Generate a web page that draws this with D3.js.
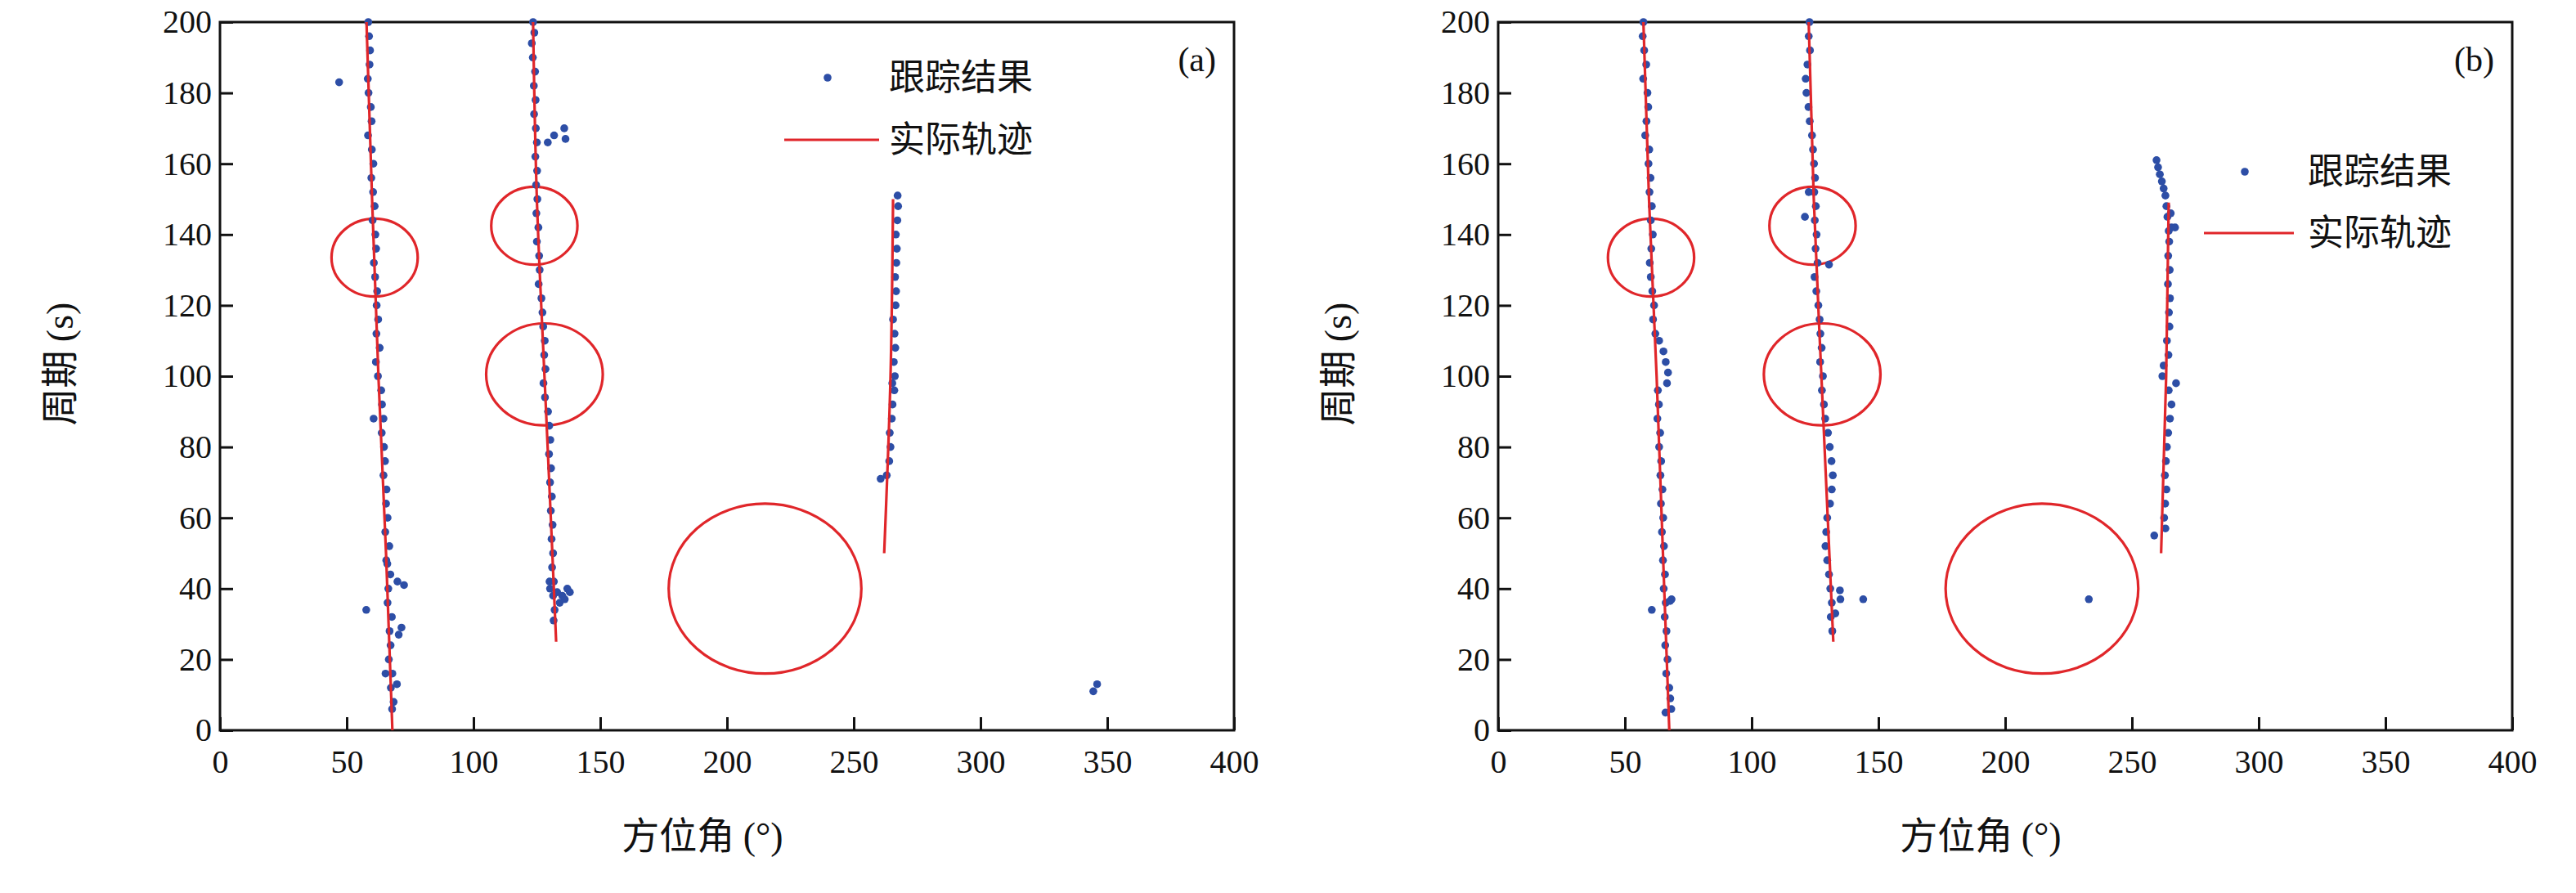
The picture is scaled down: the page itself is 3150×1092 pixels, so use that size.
<!DOCTYPE html>
<html><head><meta charset="utf-8">
<script src="https://cdn.jsdelivr.net/npm/d3@7"></script>
<style>body{margin:0;background:#fff}</style>
</head><body>
<svg id="chart" width="3150" height="1092"></svg>
<script>
// axis ticks
const xTicks = [0, 50, 100, 150, 200, 250, 300, 350, 400];
const yTicks = [0, 20, 40, 60, 80, 100, 120, 140, 160, 180, 200];

// panel (a): tracking result dots [azimuth, period]
const dotsA = [
  [58.5,200],[58.8,196],[59.2,192],[59.0,188],[58.3,184],[58.6,180],[59.5,176],[59.8,172],[58.4,168],[59.9,164],[60.5,160],[59.7,156],[60.4,152],[61.0,148],[60.2,144],[61.3,140],[61.6,136],[60.7,132],[61.2,128],[62.0,124],[61.8,120],[62.4,116],[61.7,112],[63.0,108],[61.5,104],[62.3,100],[63.6,96],[63.9,92],[64.5,88],[63.8,84],[64.7,80],[65.1,76],[64.5,72],[65.7,68],[65.5,64],[66.1,60],[65.2,56],[66.8,52],[65.6,48],[67.2,44],[66.4,40],[66.1,36],[67.8,32],[66.9,28],[67.3,24],[66.6,20],[68.0,16],[67.4,12],[68.5,8],[67.9,6],
  [47,183],[57.7,34],[60.6,88],[72.6,41],[71.6,29],[69.8,13],[65.3,16],[70,42],[70.5,27],[66.0,47],
  [123.5,200],[124,197],[123.0,194],[123.4,190],[124.3,186],[123.8,182],[124.5,178],[123.9,174],[124.6,170],[125.0,166],[124.4,162],[125.1,158],[124.7,154],[125.2,150],[124.8,146],[125.6,142],[125.0,138],[125.9,134],[126.1,130],[125.7,126],[126.8,122],[127.2,118],[127.5,114],[128.1,110],[127.9,106],[128.4,102],[127.6,98],[128.2,94],[129.4,90],[129.9,86],[130.3,82],[129.8,78],[130.6,74],[130.2,70],[130.9,66],[130.5,62],[131.2,58],[130.8,54],[131.4,50],[131.0,46],[131.7,42],[131.4,38],[132.0,34],[131.6,31],
  [135.8,170],[136.3,167],[131.8,168],[129.3,166],[130,42],[130.2,40],[133,39],[135,38],[137,40],[138,39],[136,37],[134,36],
  [263,72],[264,76],[264.5,80],[264.2,84],[265,88],[265.3,92],[266,96],[266.2,100],[265.8,104],[266.4,108],[266.1,112],[265.5,116],[266.5,120],[266.7,124],[266.3,128],[266.8,132],[267.0,136],[266.6,140],[267.2,144],[267.5,148],[267.3,151],
  [260.6,71],[265.2,98],[344.5,11],[346,13]
];
// panel (a): actual tracks
const tracksA = [
  [[57.8,200],[60,150],[62.5,100],[65.5,50],[68,0]],
  [[123.5,200],[125,150],[128,100],[130.5,60],[132.6,25]],
  [[265.5,150],[264.5,100],[262,50]]
];
// panel (b)
const dotsB = [
  [57.3,200],[57.0,196],[57.6,192],[58.4,188],[57.2,184],[58.9,180],[59.2,176],[58.5,172],[58.0,168],[59.6,164],[59.3,160],[60.1,156],[59.7,152],[60.6,148],[60.2,144],[61.0,140],[60.4,136],[59.8,132],[60.2,128],[60.8,124],[61.5,120],[61.1,116],[62.0,112],[63.5,110],[65.2,107],[66.1,104],[67.0,101],[66.6,98],[63.0,96],[63.4,92],[62.8,88],[63.9,84],[63.5,80],[64.3,76],[64.0,72],[64.8,68],[64.2,64],[65.1,60],[64.6,56],[65.4,52],[65.0,48],[65.8,44],[65.3,40],[66.1,36],[65.7,32],[66.4,28],[65.9,24],[66.8,20],[66.3,16],[67.5,12],[67.9,9],[68.3,6],[66.0,5],
  [60.6,34],[68.4,37],[67.8,36.5],
  [122.8,200],[122.5,196],[123.0,192],[122.0,188],[121.3,184],[121.6,180],[122.4,176],[122.9,172],[123.8,168],[124.2,164],[124.6,160],[125.0,156],[124.7,152],[125.3,148],[124.9,144],[125.6,140],[125.2,136],[126.0,132],[124.8,128],[125.5,124],[126.3,120],[126.8,116],[127.1,112],[127.6,108],[127.0,104],[128.1,100],[127.7,96],[128.5,92],[129.0,88],[130.1,84],[130.8,80],[131.5,76],[132.0,72],[131.6,68],[130.9,64],[129.8,60],[129.4,56],[129.1,52],[129.8,48],[130.5,44],[131.0,40],[131.6,36],[131.2,32],[131.8,28],
  [121,145],[130.5,131.5],[122.5,152],[135,37],[134.8,39.5],[144,37],[133,33],
  [259.7,161],[260.3,159],[261.0,157],[261.8,155],[262.5,153],[263.2,151],[263.6,148],[264.0,145],[264.5,141],[265.6,142],[264.7,138],[264.3,134],[264.9,130],[264.2,126],[265.0,122],[264.6,118],[264.8,114],[263.8,110],[264.4,106],[262.5,103],[262.0,100],[264.5,96],[265.6,92],[265.0,88],[264.3,84],[263.8,80],[263.4,76],[263.0,72],[263.6,68],[263.1,64],[262.7,60],[263.2,57],
  [258.8,55],[267.4,98],[267,142],[265.3,146],[233,37]
];
const tracksB = [
  [[57.3,200],[59.5,150],[62.5,100],[65,50],[67.5,0]],
  [[122.5,200],[124.5,150],[127.5,100],[130,60],[132.2,25]],
  [[264.5,149],[263.5,100],[261.5,50]]
];
// ellipses [cx, cy, rx, ry] in data units
const circlesA = [[61,133.5,17,11],[124,142.5,17,11],[128,100.5,23,14.4],[215,40,38,24]];
const circlesB = [[60.3,133.5,17,11],[124,142.5,17,11],[127.8,100.5,23,14.4],[214.5,40,38,24]];

const legendLabels = ["跟踪结果", "实际轨迹"];
const BLUE = "#2d4ea6", RED = "#e0262a";
const serif = "'Liberation Serif', 'Times New Roman', serif";
const cjk = "'Noto Sans CJK SC', sans-serif";

const svg = d3.select("#chart");

function panel(left, dots, tracks, circles, tag, leg) {
  const top = 27, w = 1240, h = 866;
  const x = d3.scaleLinear().domain([0, 400]).range([0, w]);
  const y = d3.scaleLinear().domain([0, 200]).range([h, 0]);
  const g = svg.append("g").attr("transform", `translate(${left},${top})`);

  const xa = g.append("g").attr("transform", `translate(0,${h})`)
    .call(d3.axisBottom(x).tickValues(xTicks).tickSizeInner(-16).tickSizeOuter(0).tickPadding(24));
  const ya = g.append("g")
    .call(d3.axisLeft(y).tickValues(yTicks).tickSizeInner(-16).tickSizeOuter(0).tickPadding(10));
  [xa, ya].forEach(a => {
    a.select(".domain").remove();
    a.selectAll("line").attr("stroke", "#111").attr("stroke-width", 3);
    a.selectAll("text").attr("font-family", serif).attr("font-size", 40).attr("fill", "#111");
  });
  g.append("rect").attr("width", w).attr("height", h)
    .attr("fill", "none").attr("stroke", "#111").attr("stroke-width", 3);

  g.selectAll("ellipse").data(circles).join("ellipse")
    .attr("cx", d => x(d[0])).attr("cy", d => y(d[1]))
    .attr("rx", d => x(d[2]) - x(0)).attr("ry", d => y(0) - y(d[3]))
    .attr("fill", "none").attr("stroke", RED).attr("stroke-width", 3.2);

  g.selectAll("circle.dot").data(dots).join("circle").attr("class", "dot")
    .attr("cx", d => x(d[0])).attr("cy", d => y(d[1])).attr("r", 4.8).attr("fill", BLUE);

  const line = d3.line().x(d => x(d[0])).y(d => y(d[1])).curve(d3.curveMonotoneY);
  tracks.forEach(t => g.append("path").attr("d", line(t))
    .attr("fill", "none").attr("stroke", RED).attr("stroke-width", 3.2));

  // legend
  g.append("circle").attr("cx", leg.dx).attr("cy", leg.y1).attr("r", 4.8).attr("fill", BLUE);
  g.append("line").attr("x1", leg.lx1).attr("x2", leg.lx2).attr("y1", leg.y2).attr("y2", leg.y2)
    .attr("stroke", RED).attr("stroke-width", 3.2);
  [leg.y1, leg.y2].forEach((yy, i) => g.append("text").attr("x", leg.tx).attr("y", yy + 15)
    .attr("font-family", cjk).attr("font-size", 44).attr("fill", "#111").text(legendLabels[i]));
  g.append("text").attr("x", w - 22).attr("y", 60).attr("text-anchor", "end")
    .attr("font-family", serif).attr("font-size", 42).attr("fill", "#111").text(tag);

  // axis titles
  const xt = g.append("text").attr("x", w / 2 - 30).attr("y", h + 145).attr("text-anchor", "middle")
    .attr("font-size", 46).attr("fill", "#111");
  xt.append("tspan").attr("font-family", cjk).text("方位角 ");
  xt.append("tspan").attr("font-family", serif).text("(°)");
  const yt = g.append("text").attr("transform", `translate(-180,${h / 2 - 15}) rotate(-90)`)
    .attr("text-anchor", "middle").attr("font-size", 46).attr("fill", "#111");
  yt.append("tspan").attr("font-family", cjk).text("周期 ");
  yt.append("tspan").attr("font-family", serif).text("(s)");
}

panel(269, dotsA, tracksA, circlesA, "(a)", {dx: 743, y1: 68, lx1: 690, lx2: 806, y2: 144, tx: 818});
panel(1832, dotsB, tracksB, circlesB, "(b)", {dx: 913, y1: 183, lx1: 863, lx2: 973, y2: 258, tx: 990});
</script>
</body></html>
